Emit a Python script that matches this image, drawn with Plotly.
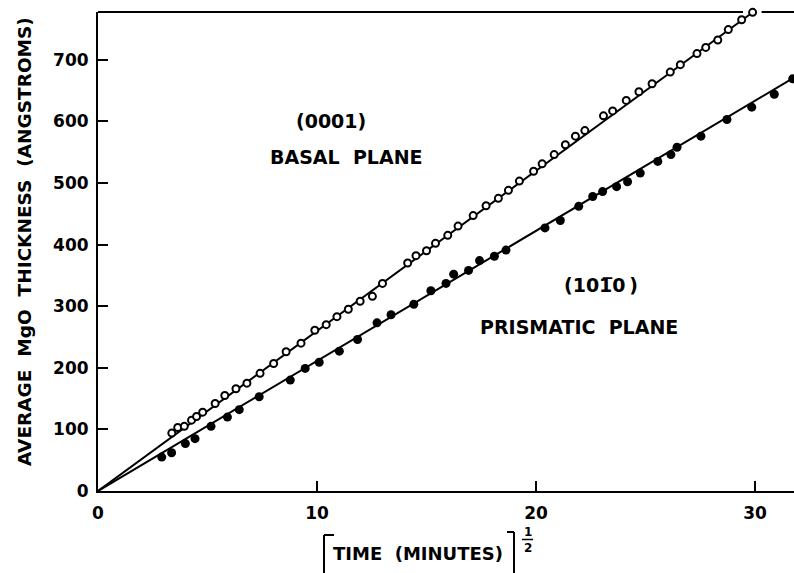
import plotly.graph_objects as go

# ---------------- data ----------------
basal_x = [3.37, 3.64, 3.94, 4.27, 4.50, 4.78, 5.35, 5.79, 6.30, 6.80, 7.40, 8.02, 8.59,
           9.27, 9.90, 10.42, 10.91, 11.43, 11.97, 12.53, 12.99, 14.14, 14.52, 15.00,
           15.41, 15.97, 16.44, 17.13, 17.72, 18.28, 18.74, 19.24, 19.89, 20.28, 20.83,
           21.34, 21.80, 22.23, 23.08, 23.50, 24.12, 24.70, 25.30, 26.13, 26.59, 27.35,
           27.75, 28.30, 28.78, 29.39, 29.89]
basal_y = [94, 103, 105, 115, 121, 128, 142, 155, 166, 175, 191, 207, 226,
           240, 261, 270, 283, 295, 308, 316, 337, 370, 382, 390,
           402, 415, 430, 447, 463, 475, 488, 503, 519, 531, 546,
           562, 576, 585, 609, 617, 634, 648, 661, 680, 692, 710,
           720, 732, 749, 765, 777]

prism_x = [2.91, 3.36, 3.99, 4.43, 5.16, 5.91, 6.45, 7.36, 8.78, 9.46, 10.10, 11.02,
           11.85, 12.74, 13.38, 14.42, 15.20, 15.89, 16.24, 16.92, 17.42, 18.10, 18.63,
           20.41, 21.11, 21.95, 22.59, 23.04, 23.68, 24.18, 24.76, 25.56, 26.16, 26.44,
           27.53, 28.72, 29.85, 30.88, 31.72]
prism_y = [55, 62, 77, 85, 105, 120, 132, 153, 180, 199, 209, 227,
           246, 273, 286, 303, 325, 337, 352, 358, 374, 381, 391,
           427, 439, 462, 478, 486, 494, 502, 516, 535, 546, 558,
           576, 603, 623, 644, 669]

basal_fit_x = [0, 29.9]
basal_fit_y = [0, 777]
prism_fit_x = [0, 31.78]
prism_fit_y = [0, 671]

x_ticks = [0, 10, 20, 30]
y_ticks = [0, 100, 200, 300, 400, 500, 600, 700]

# ---------------- layout helpers ----------------
W, H = 794, 573
L, R, T, B = 98, 0, 12, 82
PW, PH = W - L - R, H - T - B
XMAX = 31.78
YMAX = 777.5
FONT = "DejaVu Sans"


def fx(px):
    return (px - L) / PW


def fy(py):
    return (H - B - py) / PH


fig = go.Figure()

fig.add_trace(go.Scatter(x=basal_fit_x, y=basal_fit_y, mode="lines",
                         line=dict(color="black", width=2), showlegend=False,
                         cliponaxis=False))
fig.add_trace(go.Scatter(x=prism_fit_x, y=prism_fit_y, mode="lines",
                         line=dict(color="black", width=2), showlegend=False,
                         cliponaxis=False))
fig.add_trace(go.Scatter(x=basal_x, y=basal_y, mode="markers",
                         marker=dict(symbol="circle", size=7, color="white",
                                     line=dict(color="black", width=2)),
                         showlegend=False, cliponaxis=False))
fig.add_trace(go.Scatter(x=prism_x, y=prism_y, mode="markers",
                         marker=dict(symbol="circle", size=9, color="black",
                                     line=dict(width=0)),
                         showlegend=False, cliponaxis=False))

tickfont = dict(family=FONT, size=17, color="black", weight="bold")

fig.update_xaxes(range=[0, XMAX], showgrid=False, zeroline=False,
                 showline=True, linecolor="black", linewidth=2,
                 ticks="inside", ticklen=10, tickwidth=2, tickcolor="black",
                 tickvals=x_ticks, ticktext=[str(v) for v in x_ticks],
                 tickfont=tickfont, ticklabelstandoff=6)
fig.update_yaxes(range=[0, YMAX], showgrid=False, zeroline=False,
                 showline=True, linecolor="black", linewidth=2,
                 ticks="inside", ticklen=10, tickwidth=2, tickcolor="black",
                 tickvals=y_ticks, ticktext=[str(v) for v in y_ticks],
                 tickfont=tickfont, ticklabelstandoff=4)

shapes = []
# top frame line with a small gap where the last open circle sits
shapes.append(dict(type="line", xref="x", yref="paper", x0=0, x1=29.45, y0=1, y1=1,
                   line=dict(color="black", width=2)))
shapes.append(dict(type="line", xref="x", yref="paper", x0=30.3, x1=XMAX, y0=1, y1=1,
                   line=dict(color="black", width=2)))
# brackets of the x-axis title
shapes.append(dict(type="line", xref="paper", yref="paper",
                   x0=fx(324), x1=fx(324), y0=fy(575), y1=fy(535),
                   line=dict(color="black", width=2)))
shapes.append(dict(type="line", xref="paper", yref="paper",
                   x0=fx(324), x1=fx(334), y0=fy(535), y1=fy(535),
                   line=dict(color="black", width=2)))
shapes.append(dict(type="line", xref="paper", yref="paper",
                   x0=fx(514), x1=fx(514), y0=fy(575), y1=fy(532),
                   line=dict(color="black", width=2)))
shapes.append(dict(type="line", xref="paper", yref="paper",
                   x0=fx(507), x1=fx(514), y0=fy(532), y1=fy(532),
                   line=dict(color="black", width=2)))
# fraction bar of the exponent 1/2
shapes.append(dict(type="line", xref="paper", yref="paper",
                   x0=fx(522), x1=fx(533), y0=fy(539.5), y1=fy(539.5),
                   line=dict(color="black", width=1.5)))

NB = "\u00a0"
TH = "\u2009"


def ann(text, px, py, size, angle=0):
    return dict(text=text, x=fx(px), y=fy(py), xref="paper", yref="paper",
                showarrow=False, xanchor="center", yanchor="middle",
                textangle=angle,
                font=dict(family=FONT, size=size, color="black", weight="bold"))


annotations = [
    ann("(0001)", 331, 121, 19),
    ann("BASAL" + NB * 2 + "PLANE", 346, 157, 19),
    ann("(" + "10" + "1\u0305" + "0" + TH + ")", 601, 285, 19),
    ann("PRISMATIC" + NB * 2 + "PLANE", 579, 327, 19),
    ann("AVERAGE" + NB * 2 + "MgO" + NB * 2 + "THICKNESS" + NB * 2 + "(ANGSTROMS)",
        24, 242, 18.5, -90),
    ann("TIME" + NB * 2 + "(MINUTES)", 418, 553, 18),
    ann("1", 528, 532, 12),
    ann("2", 528, 548, 12),
]

fig.update_layout(width=W, height=H,
                  margin=dict(l=L, r=R, t=T, b=B, pad=0),
                  paper_bgcolor="white", plot_bgcolor="white",
                  shapes=shapes, annotations=annotations,
                  showlegend=False)

fig.write_html("out.html")
